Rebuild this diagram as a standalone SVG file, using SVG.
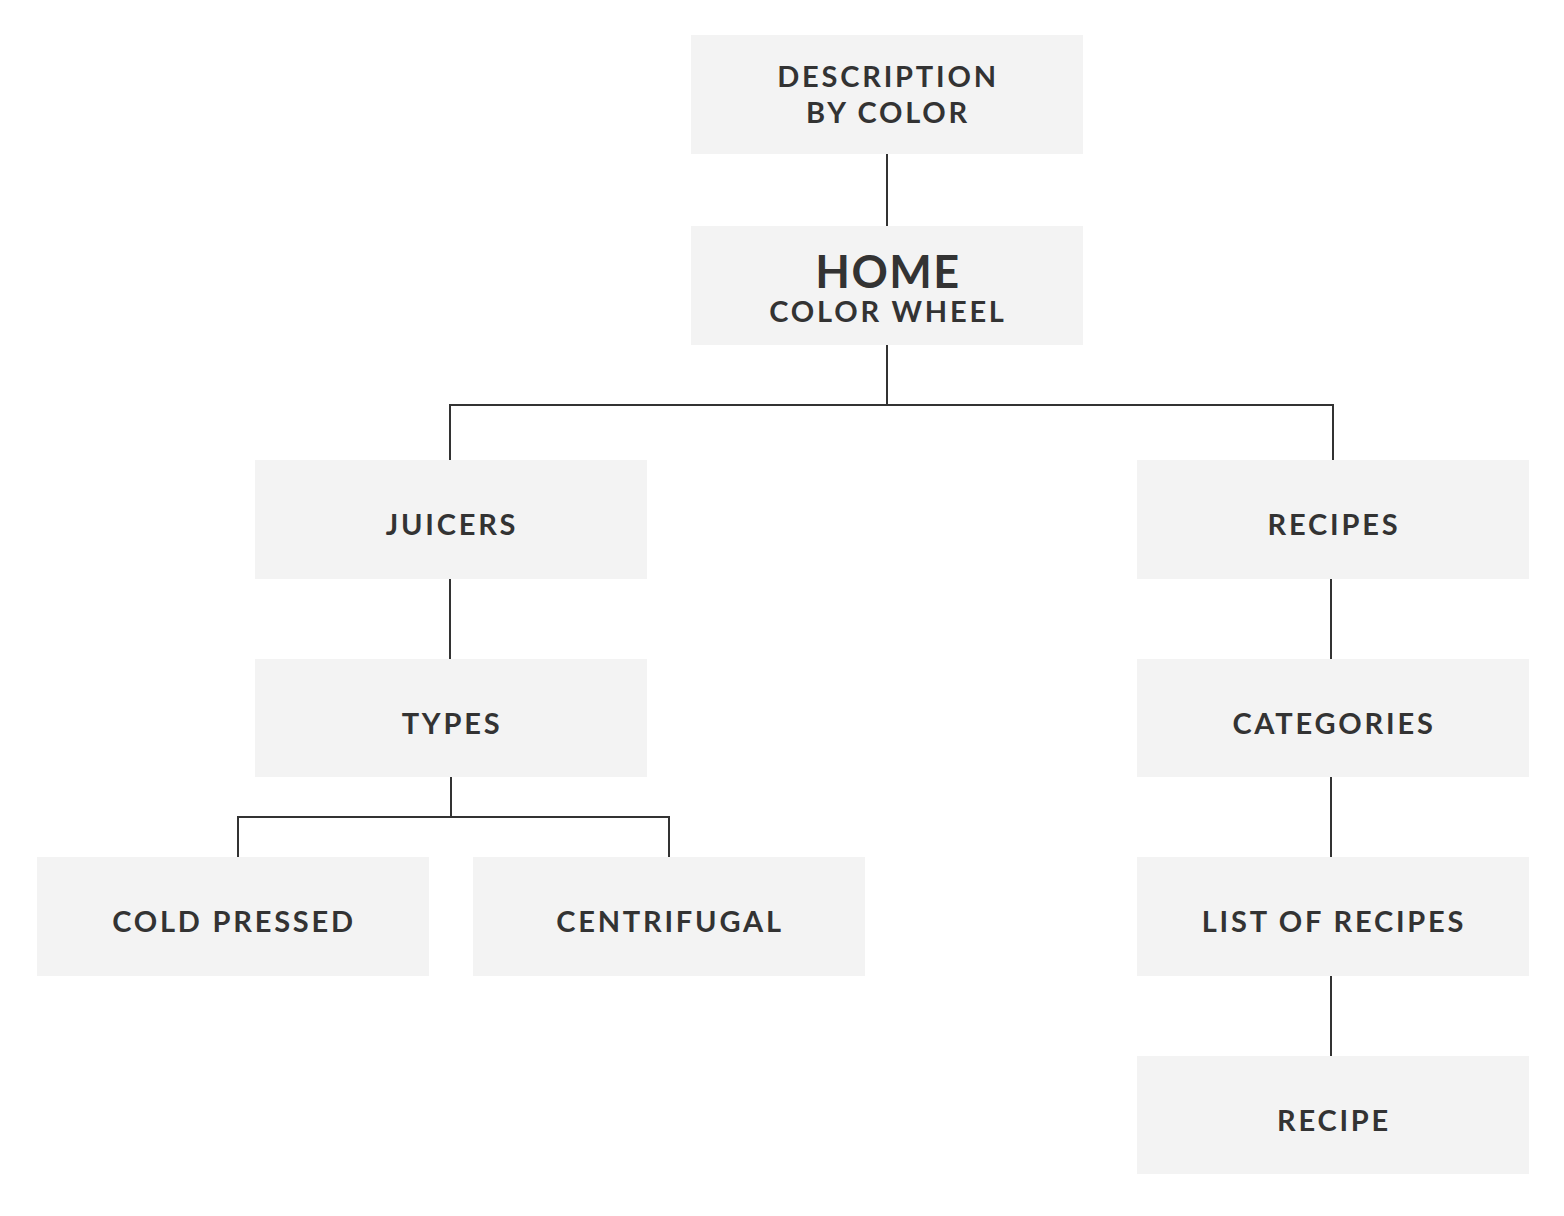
<svg xmlns="http://www.w3.org/2000/svg" width="1564" height="1216" viewBox="0 0 1564 1216">
<style>
.box{fill:#f3f3f3}
.t{font-family:Lato,"Liberation Sans",sans-serif;font-weight:700;font-size:29px;fill:#333;text-anchor:middle;letter-spacing:2.8px}
.big{font-size:45px;letter-spacing:1.5px}
.c{fill:none;stroke:#333;stroke-width:2}
</style>
<rect width="1564" height="1216" fill="#fff"/>
<g id="connectors">
<path class="c" d="M887 154V226"/>
<path class="c" d="M887 345V405M450 460V405H1333V460"/>
<path class="c" d="M450 579V659"/>
<path class="c" d="M451 777V817M238 857V817H669V857"/>
<path class="c" d="M1331 579V659"/>
<path class="c" d="M1331 777V857"/>
<path class="c" d="M1331 976V1056"/>
</g>
<g id="description"><rect class="box" x="691" y="35" width="392" height="119"/><text class="t" x="888" y="87">DESCRIPTION</text><text class="t" x="888" y="123">BY COLOR</text></g>
<g id="home"><rect class="box" x="691" y="226" width="392" height="119"/><text class="t big" x="888" y="288">HOME</text><text class="t" x="888" y="322">COLOR WHEEL</text></g>
<g id="juicers"><rect class="box" x="255" y="460" width="392" height="119"/><text class="t" x="452" y="535">JUICERS</text></g>
<g id="recipes"><rect class="box" x="1137" y="460" width="392" height="119"/><text class="t" x="1334" y="535">RECIPES</text></g>
<g id="types"><rect class="box" x="255" y="659" width="392" height="118"/><text class="t" x="452" y="734">TYPES</text></g>
<g id="categories"><rect class="box" x="1137" y="659" width="392" height="118"/><text class="t" x="1334" y="734">CATEGORIES</text></g>
<g id="cold-pressed"><rect class="box" x="37" y="857" width="392" height="119"/><text class="t" x="234" y="932">COLD PRESSED</text></g>
<g id="centrifugal"><rect class="box" x="473" y="857" width="392" height="119"/><text class="t" x="670" y="932">CENTRIFUGAL</text></g>
<g id="list-of-recipes"><rect class="box" x="1137" y="857" width="392" height="119"/><text class="t" x="1334" y="932">LIST OF RECIPES</text></g>
<g id="recipe"><rect class="box" x="1137" y="1056" width="392" height="118"/><text class="t" x="1334" y="1131">RECIPE</text></g>
</svg>
